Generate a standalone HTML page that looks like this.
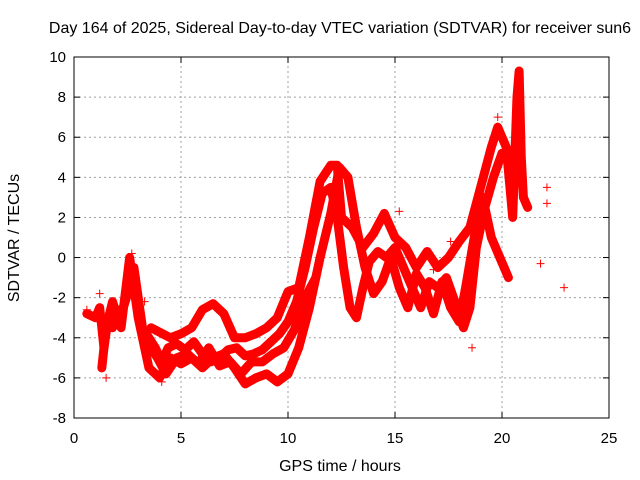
<!DOCTYPE html>
<html><head><meta charset="utf-8"><style>
body{margin:0;background:#fff}
svg{display:block;font-family:"Liberation Sans",sans-serif}
</style></head><body>
<svg id="chart" width="640" height="480">
<text x="340" y="33" text-anchor="middle" font-size="16">Day 164 of 2025, Sidereal Day-to-day VTEC variation (SDTVAR) for receiver sun6</text>
<text x="340" y="471" text-anchor="middle" font-size="16">GPS time / hours</text>
<text transform="translate(19,238) rotate(-90)" text-anchor="middle" font-size="16">SDTVAR / TECUs</text>
<g id="grid"></g><g id="marks"></g><g id="axes"></g>
</svg>
<script>
const xTicks=[0,5,10,15,20,25];
const yTicks=[-8,-6,-4,-2,0,2,4,6,8,10];
const trackA=[[0.6,-2.8],[1.0,-3],[1.2,-2.5],[1.4,-4.5],[1.6,-3],[1.8,-3.5],[2.0,-2.8],[2.3,-2.5],[2.6,-1.5],[2.8,-0.5],[3.0,-2],[3.2,-3.5],[3.5,-4],[3.8,-4.5],[4.1,-5.2],[4.4,-4.5],[4.8,-4.3],[5.2,-4.6],[5.6,-4.2],[6.0,-4.8],[6.4,-5.2],[6.8,-5],[7.2,-4.6],[7.6,-4.5],[8.0,-4.9],[8.4,-4.8],[8.8,-4.6],[9.2,-4.2],[9.6,-3.8],[10.0,-3.2],[10.4,-2.2],[10.8,-0.5],[11.2,1.5],[11.6,3.2],[12.0,3.5],[12.3,2.0],[12.6,-0.5],[12.9,-2.5],[13.2,-3],[13.5,-1.5],[13.8,-0.2],[14.2,0.3],[14.6,0],[15,0.5],[15.4,-0.5],[15.8,-1.5],[16.2,-2.5],[16.6,-1.2],[17,-1.5],[17.4,-1.0],[17.8,-2.2],[18.2,-3.5],[18.5,-2.5],[18.8,0.5],[19.2,2.5],[19.6,4.0],[20.0,5.2],[20.4,5.0],[20.6,4.0]];
const trackB=[[1.3,-5.5],[1.5,-3.5],[1.8,-2.2],[2.2,-3.5],[2.6,0],[3.0,-3],[3.5,-5.5],[4.0,-6],[4.5,-5],[5.0,-5.3],[5.5,-5],[6.0,-5.5],[6.5,-5],[7.0,-4.8],[7.5,-5.5],[8,-6.3],[8.5,-6],[9,-5.8],[9.5,-6.2],[10,-5.8],[10.5,-4.5],[11,-2.5],[11.5,0],[12,2.2],[12.4,4.5],[12.8,4.0],[13.2,1.5],[13.6,-0.5],[14,-1.8],[14.4,-1.2],[14.8,0],[15.2,-1.5],[15.6,-2.5],[16,-0.8],[16.4,-1.5],[16.8,-2.8],[17.2,-1.2],[17.6,-2.5],[18,-3.2],[18.3,-1.5],[18.7,1],[19.1,3],[19.5,1],[19.9,0],[20.3,-1]];
const trackC=[[3.6,-3.5],[4.5,-4],[5,-3.8],[5.5,-3.5],[6,-2.6],[6.5,-2.3],[7,-2.8],[7.5,-4],[8,-4],[8.5,-3.8],[9,-3.5],[9.5,-3],[10,-1.7],[10.5,-1.5],[11,1],[11.5,3.8],[12,4.6],[12.3,4.6],[12.5,2],[13,1.5],[13.5,0.5],[14,1.2],[14.5,2.2],[15,1],[15.5,0.5],[16,-0.5],[16.5,0.3],[17,-0.5],[17.5,0],[18,0.8],[18.5,1.5],[19,3.5],[19.5,5.5],[19.8,6.5],[20.2,5.5],[20.5,2],[20.7,8],[20.8,9.3],[20.9,5],[21,3],[21.2,2.5]];
const trackD=[[3.4,-4.2],[3.9,-5],[4.3,-5.8],[4.8,-5],[5.3,-4.8],[5.8,-5.3],[6.3,-4.5],[6.8,-5.4],[7.3,-5.2],[7.8,-5.8],[8.3,-5.2],[8.8,-5.2],[9.3,-4.8],[9.8,-4.5],[10.3,-3.6],[10.8,-2],[11.3,-1]];
const isolated=[[18.6,-4.5],[21.8,-0.3],[22.1,3.5],[22.1,2.7],[22.9,-1.5],[15.2,2.3],[17.6,0.8],[0.6,-2.6],[1.5,-6],[1.2,-1.8],[2.7,0.2],[2.9,-1],[3.3,-2.2],[4.1,-6.2],[16.8,-0.6],[19.8,7]];
const X0=74,X1=609,Y0=418,Y1=57;
const sx=v=>X0+(v-0)/25*(X1-X0);
const sy=v=>Y0-(v+8)/18*(Y0-Y1);
const NS="http://www.w3.org/2000/svg";
function mk(tag,attrs,parent){const e=document.createElementNS(NS,tag);for(const k in attrs)e.setAttribute(k,attrs[k]);parent.appendChild(e);return e;}
const grid=document.getElementById('grid'),marks=document.getElementById('marks'),axes=document.getElementById('axes');
xTicks.forEach(t=>{
 if(t>0&&t<25){const l=mk('line',{x1:sx(t),x2:sx(t),y1:Y0,y2:Y1,stroke:'#a0a0a0','stroke-dasharray':'2,3'},grid);
 
 }
 const tx=mk('text',{x:sx(t),y:Y0+25,'text-anchor':'middle','font-size':15},axes);tx.textContent=t;
 
 
 mk('line',{x1:sx(t),x2:sx(t),y1:Y0,y2:Y0-6,stroke:'#000'},axes);
 mk('line',{x1:sx(t),x2:sx(t),y1:Y1,y2:Y1+6,stroke:'#000'},axes);
});
yTicks.forEach(t=>{
 if(t>-8&&t<10){const l=mk('line',{x1:X0,x2:X1,y1:sy(t),y2:sy(t),stroke:'#a0a0a0','stroke-dasharray':'2,3'},grid);
 
 }
 const tx=mk('text',{x:X0-8,y:sy(t)+5,'text-anchor':'end','font-size':15},axes);tx.textContent=t;
 
 
 mk('line',{x1:X0,x2:X0+6,y1:sy(t),y2:sy(t),stroke:'#000'},axes);
 mk('line',{x1:X1,x2:X1-6,y1:sy(t),y2:sy(t),stroke:'#000'},axes);
});
const fr=mk('rect',{x:X0,y:Y1,width:X1-X0,height:Y0-Y1,fill:'none',stroke:'#000'},axes);


function plus(p){const x=sx(p[0]),y=sy(p[1]);
 const g=mk('path',{d:`M${x-4} ${y}H${x+4}M${x} ${y-4}V${y+4}`,stroke:'#f00','stroke-width':1},marks);
 
 }
[trackA,trackB,trackC,trackD].forEach((tr,i)=>{
 const pl=mk('polyline',{points:tr.map(p=>sx(p[0])+','+sy(p[1])).join(' '),fill:'none',stroke:'#f00','stroke-width':9,'stroke-linejoin':'round','stroke-linecap':'round'},marks);
 
 
 tr.forEach(plus);
});
isolated.forEach(plus);
</script>
</body></html>
